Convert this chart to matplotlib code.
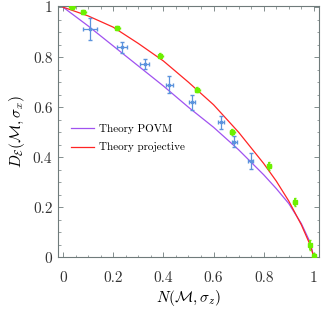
import matplotlib.pyplot as plt
from matplotlib.ticker import MultipleLocator

plt.rcParams["font.family"] = "serif"
plt.rcParams["font.serif"] = ["cmr10"]
plt.rcParams["mathtext.fontset"] = "cm"
plt.rcParams["axes.formatter.use_mathtext"] = True

# theory curves
povm_n = [0.0, 0.1, 0.2, 0.3, 0.4, 0.5, 0.6, 0.7, 0.8, 0.85, 0.9, 0.95, 0.985, 1.0]
povm_d = [1.0, 0.925, 0.845, 0.765, 0.685, 0.60, 0.52, 0.43, 0.33, 0.275, 0.215, 0.135, 0.06, 0.0]
proj_n = [0.0, 0.1, 0.2, 0.3, 0.4, 0.5, 0.6, 0.7, 0.8, 0.85, 0.9, 0.95, 0.985, 1.0]
proj_d = [1.0, 0.965, 0.92, 0.855, 0.785, 0.70, 0.61, 0.50, 0.375, 0.305, 0.225, 0.13, 0.05, 0.0]

# measured points (green: projective, blue: POVM)
green_n = [0.036, 0.080, 0.217, 0.387, 0.536, 0.675, 0.821, 0.923, 0.985, 1.0]
green_d = [1.0, 0.982, 0.915, 0.806, 0.670, 0.503, 0.366, 0.221, 0.05, 0.007]
green_nerr = [0.013, 0.01, 0.01, 0.01, 0.01, 0.01, 0.008, 0.006, 0.005, 0.004]
green_derr = [0.008, 0.008, 0.008, 0.009, 0.01, 0.012, 0.016, 0.016, 0.019, 0.012]

blue_n = [0.108, 0.236, 0.325, 0.424, 0.513, 0.630, 0.683, 0.749]
blue_d = [0.913, 0.839, 0.773, 0.690, 0.619, 0.539, 0.463, 0.386]
blue_nerr = [0.028, 0.02, 0.018, 0.014, 0.012, 0.012, 0.01, 0.01]
blue_derr = [0.043, 0.023, 0.02, 0.033, 0.031, 0.027, 0.023, 0.032]

ticks = [0, 0.2, 0.4, 0.6, 0.8, 1]
tick_labels = ["0", "0.2", "0.4", "0.6", "0.8", "1"]

FRAME = "#6f7b7b"


def main() -> None:
    fig = plt.figure(figsize=(3.22, 3.09), dpi=100)
    ax = fig.add_axes([0.180, 0.167, 0.812, 0.814])

    ax.plot(povm_n, povm_d, color="#a052f0", lw=0.9, label="Theory POVM", zorder=2)
    ax.plot(proj_n, proj_d, color="#ff2424", lw=0.9, label="Theory projective", zorder=2)

    ax.errorbar(green_n, green_d, xerr=green_nerr, yerr=green_derr, fmt="s",
                color="#6cf000", ms=3, lw=1.3, capsize=1, zorder=3)
    ax.errorbar(blue_n, blue_d, xerr=blue_nerr, yerr=blue_derr, fmt="s",
                color="#5b93dd", ms=1.8, lw=0.9, capsize=1.3, zorder=3)

    ax.set_xlim(-0.02, 1.022)
    ax.set_ylim(0, 1.005)
    ax.set_xticks(ticks)
    ax.set_xticklabels(tick_labels)
    ax.set_yticks(ticks)
    ax.set_yticklabels(tick_labels)
    ax.xaxis.set_minor_locator(MultipleLocator(0.05))
    ax.yaxis.set_minor_locator(MultipleLocator(0.05))

    ax.tick_params(which="both", direction="in", top=True, right=True,
                   color=FRAME, labelcolor="#333333", labelsize=11)
    ax.tick_params(which="major", length=3.5, width=0.6)
    ax.tick_params(which="minor", length=1.8, width=0.5)
    ax.tick_params(axis="x", pad=10)
    ax.tick_params(axis="y", pad=4)
    for s in ax.spines.values():
        s.set_color(FRAME)
        s.set_linewidth(0.8)

    ax.set_xlabel(r"$N(\mathcal{M},\sigma_z)$", fontsize=11, labelpad=2)
    ax.set_ylabel(r"$D_{\mathcal{E}}(\mathcal{M},\sigma_x)$", fontsize=11, labelpad=4)

    ax.legend(loc="upper left", bbox_to_anchor=(0.05, 0.53), frameon=False,
              fontsize=8, borderpad=0, borderaxespad=0, handlelength=2.1,
              handletextpad=0.45, labelspacing=0.75)

    fig.savefig("out.png", dpi=100)
    plt.close(fig)


if __name__ == "__main__":
    main()
